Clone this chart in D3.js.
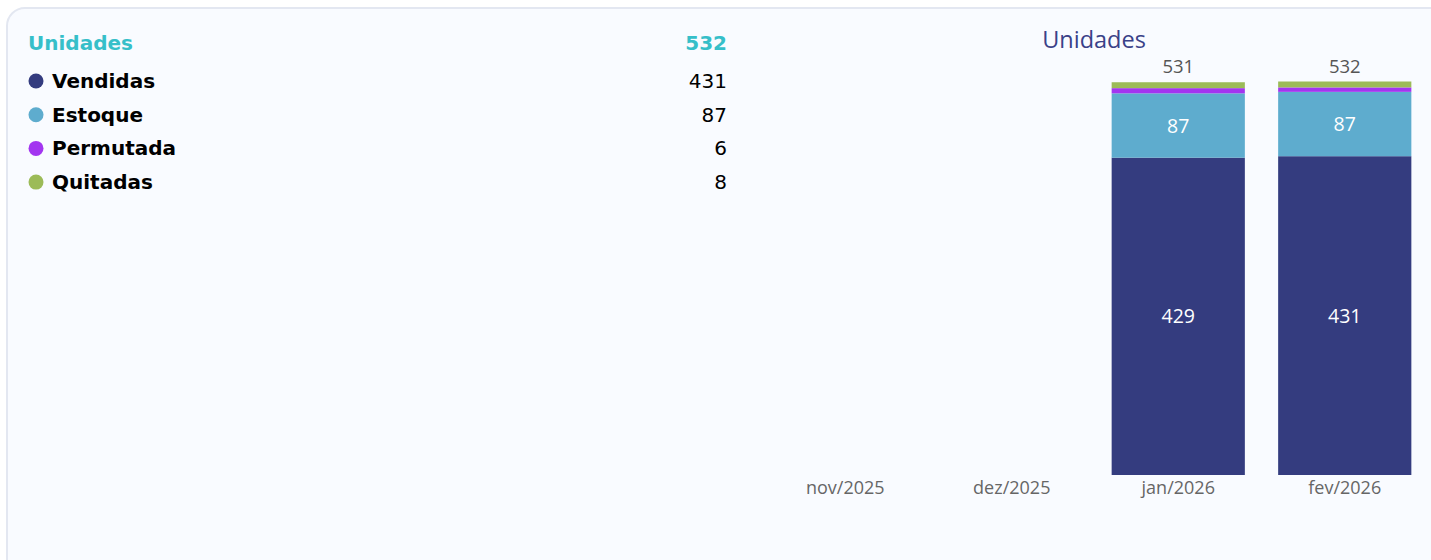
<!DOCTYPE html>
<html>
<head>
<meta charset="utf-8">
<script src="https://cdn.jsdelivr.net/npm/d3@7"></script>
<style>
  body { margin: 0; background: #ffffff; }
  #chart { width: 1431px; height: 560px; }
</style>
</head>
<body>
<div id="chart"></div>
<script>
// data
const months = ["nov/2025", "dez/2025", "jan/2026", "fev/2026"];
const keys = ["Vendidas", "Estoque", "Permutada", "Quitadas"];
const vendidas = [null, null, 429, 431];
const estoque = [null, null, 87, 87];
const permutada = [null, null, 7, 6];
const quitadas = [null, null, 8, 8];
const summaryTitle = "Unidades";
const summaryTotal = 532;
const summaryValues = [431, 87, 6, 8];
const chartTitle = "Unidades";

const colors = ["#343c7f", "#5eacce", "#a335f0", "#9cbb58"];

const width = 1431, height = 560;

const svg = d3.select("#chart").append("svg")
    .attr("width", width)
    .attr("height", height);

/* card background */
svg.append("rect")
    .attr("x", 7).attr("y", 8)
    .attr("width", 1460).attr("height", 580)
    .attr("rx", 18).attr("ry", 18)
    .attr("fill", "#f9fbff")
    .attr("stroke", "#e3e7f1")
    .attr("stroke-width", 2);

/* left summary */
const left = svg.append("g").attr("font-family", "'DejaVu Sans', sans-serif").attr("font-size", 20);

left.append("text")
    .attr("x", 28).attr("y", 50)
    .attr("fill", "#36bfc9").attr("font-weight", "bold")
    .text(summaryTitle);
left.append("text")
    .attr("x", 727).attr("y", 50)
    .attr("text-anchor", "end")
    .attr("fill", "#36bfc9").attr("font-weight", "bold")
    .text(summaryTotal);

const rows = left.selectAll(".row")
    .data(keys)
    .enter()
    .append("g")
    .attr("class", "row")
    .attr("transform", (d, i) => `translate(0,${81 + i * 33.7})`);

rows.append("circle")
    .attr("cx", 36).attr("cy", 0).attr("r", 7.5)
    .attr("fill", (d, i) => colors[i]);
rows.append("text")
    .attr("x", 52).attr("y", 7)
    .attr("font-weight", "bold").attr("fill", "#000")
    .text(d => d);
rows.append("text")
    .attr("x", 727).attr("y", 7)
    .attr("text-anchor", "end").attr("fill", "#000")
    .text((d, i) => summaryValues[i]);

/* stacked bar chart */
const data = months.map((m, i) => ({
    month: m,
    Vendidas: vendidas[i] || 0,
    Estoque: estoque[i] || 0,
    Permutada: permutada[i] || 0,
    Quitadas: quitadas[i] || 0,
    hasData: vendidas[i] !== null
}));

const stackedData = d3.stack().keys(keys)(data);

const xScale = d3.scaleBand()
    .domain(months)
    .range([762, 1428])
    .paddingInner(0.2)
    .paddingOuter(0.1);

const yScale = d3.scaleLinear()
    .domain([0, 532])
    .range([475, 81.5]);

const chart = svg.append("g").attr("font-family", "'Segoe UI', 'Open Sans', 'Noto Sans', sans-serif");

chart.append("text")
    .attr("x", 1094).attr("y", 48)
    .attr("text-anchor", "middle")
    .attr("font-size", 23.5)
    .attr("fill", "#3a4188")
    .text(chartTitle);

const layers = chart.selectAll(".layer")
    .data(stackedData)
    .enter()
    .append("g")
    .attr("class", "layer")
    .attr("fill", (d, i) => colors[i]);

layers.selectAll("rect")
    .data(d => d.filter(v => v.data.hasData))
    .enter()
    .append("rect")
    .attr("x", d => xScale(d.data.month))
    .attr("width", xScale.bandwidth())
    .attr("y", d => yScale(d[1]))
    .attr("height", d => yScale(d[0]) - yScale(d[1]));

// value labels inside the two big segments
stackedData.slice(0, 2).forEach(layer => {
    chart.selectAll(null)
        .data(layer.filter(v => v.data.hasData))
        .enter()
        .append("text")
        .attr("x", d => xScale(d.data.month) + xScale.bandwidth() / 2)
        .attr("y", d => (yScale(d[0]) + yScale(d[1])) / 2 + 7)
        .attr("text-anchor", "middle")
        .attr("font-size", 19.5)
        .attr("fill", "#ffffff")
        .text(d => d[1] - d[0]);
});

// totals
const topLayer = stackedData[stackedData.length - 1];
chart.selectAll(".total")
    .data(topLayer.filter(v => v.data.hasData))
    .enter()
    .append("text")
    .attr("class", "total")
    .attr("x", d => xScale(d.data.month) + xScale.bandwidth() / 2)
    .attr("y", d => yScale(d[1]) - 9)
    .attr("text-anchor", "middle")
    .attr("font-size", 18.5)
    .attr("fill", "#555")
    .text(d => d[1]);

// x axis
const xAxis = chart.append("g")
    .attr("transform", "translate(0,475)")
    .call(d3.axisBottom(xScale).tickSize(0).tickPadding(6));
xAxis.select(".domain").remove();
xAxis.selectAll("text")
    .attr("font-family", "'Segoe UI', 'Open Sans', 'Noto Sans', sans-serif")
    .attr("font-size", 18)
    .attr("fill", "#666");
</script>
</body>
</html>
